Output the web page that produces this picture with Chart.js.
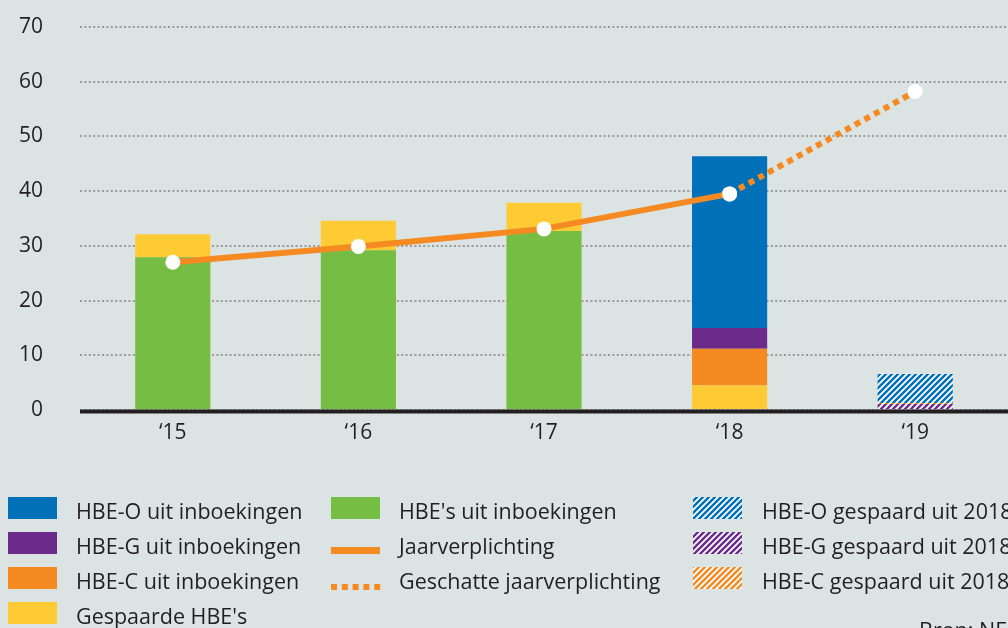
<!DOCTYPE html>
<html>
<head>
<meta charset="utf-8">
<script src="https://cdn.jsdelivr.net/npm/chart.js@4.4.0/dist/chart.umd.min.js"></script>
<style>
  html, body { margin: 0; padding: 0; background: #dbe4e2; }
  #wrap { width: 1008px; height: 628px; overflow: hidden; }
</style>
</head>
<body>
<div id="wrap"><canvas id="hbeChart" width="1008" height="628"></canvas></div>
<script>
// Values
const years = ['\u201815', '\u201816', '\u201817', '\u201818', '\u201819'];

const hbeInboekingen = [27.9, 29.2, 32.7, null, null];
const gespaardeHbe   = [4.2, 5.4, 5.2, 4.5, null];
const hbeCInboek     = [null, null, null, 6.7, null];
const hbeGInboek     = [null, null, null, 3.8, null];
const hbeOInboek     = [null, null, null, 31.4, null];
const hbeGGespaard   = [null, null, null, null, 1.1];
const hbeCGespaard   = [null, null, null, null, 0.2];
const hbeOGespaard   = [null, null, null, null, 5.3];

const jaarverplichting = [27.0, 29.9, 33.1, 39.5, null];
const geschatteJaarverplichting = [null, null, null, 39.5, 58.2];

const BLUE = '#0070b8';
const PURPLE = '#6a2b8b';
const ORANGE = '#f58a22';
const YELLOW = '#fecb34';
const GREEN = '#76be43';
const TEXT = '#231f20';
const FONT = '"Open Sans", "Noto Sans", sans-serif';

const canvas = document.getElementById('hbeChart');
const ctx = canvas.getContext('2d');

function makeHatch(color) {
    const s = 6;
    const c = document.createElement('canvas');
    c.width = s; c.height = s;
    const g = c.getContext('2d');
    g.fillStyle = '#ffffff';
    g.fillRect(0, 0, s, s);
    g.strokeStyle = color;
    g.lineWidth = 2.4;
    g.beginPath();
    g.moveTo(-1, 1); g.lineTo(1, -1);
    g.moveTo(0, s); g.lineTo(s, 0);
    g.moveTo(s - 1, s + 1); g.lineTo(s + 1, s - 1);
    g.stroke();
    return ctx.createPattern(c, 'repeat');
}

const hatchO = makeHatch(BLUE);
const hatchG = makeHatch(PURPLE);
const hatchC = makeHatch(ORANGE);

// legend columns (label, swatch style)
const legendCol1 = [
    ['HBE-O uit inboekingen', BLUE],
    ['HBE-G uit inboekingen', PURPLE],
    ['HBE-C uit inboekingen', ORANGE],
    ["Gespaarde HBE's", YELLOW]
];
const legendCol2 = [
    ["HBE's uit inboekingen", GREEN],
    ['Jaarverplichting', 'line'],
    ['Geschatte jaarverplichting', 'dots']
];
const legendCol3 = [
    ['HBE-O gespaard uit 2018', hatchO],
    ['HBE-G gespaard uit 2018', hatchG],
    ['HBE-C gespaard uit 2018', hatchC]
];

const legendPlugin = {
    id: 'hbeLegend',
    afterDatasetsDraw(chart) {
        const c = chart.ctx;
        const area = chart.chartArea;
        // thick zero line
        c.save();
        c.strokeStyle = TEXT;
        c.lineWidth = 4;
        c.beginPath();
        c.moveTo(area.left, area.bottom + 1.5);
        c.lineTo(area.right, area.bottom + 1.5);
        c.stroke();
        c.restore();
    },
    afterDraw(chart) {
        const c = chart.ctx;
        c.save();
        c.font = '21.5px ' + FONT;
        c.fillStyle = TEXT;
        c.textBaseline = 'alphabetic';

        const cols = [
            { items: legendCol1, sx: 8, tx: 76 },
            { items: legendCol2, sx: 331, tx: 399 },
            { items: legendCol3, sx: 693, tx: 762 }
        ];
        cols.forEach(col => {
            col.items.forEach((item, i) => {
                const top = 497 + i * 35;
                const style = item[1];
                if (style === 'line') {
                    c.fillStyle = ORANGE;
                    c.fillRect(col.sx, top + 15, 49, 7);
                } else if (style === 'dots') {
                    c.fillStyle = ORANGE;
                    for (let k = 0; k < 5; k++) {
                        c.fillRect(col.sx + k * 10.8, top + 17, 6, 6);
                    }
                } else {
                    c.fillStyle = style;
                    c.fillRect(col.sx, top, 49, 22);
                }
                c.fillStyle = TEXT;
                c.fillText(item[0], col.tx, top + 22);
            });
        });

        c.fillText('Bron: NEa', 919, 638);
        c.restore();
    }
};

function barSet(label, data, color) {
    return {
        label: label,
        data: data,
        backgroundColor: color,
        borderWidth: 0,
        barPercentage: 0.405,
        categoryPercentage: 1,
        order: 1
    };
}

new Chart(ctx, {
    type: 'bar',
    data: {
        labels: years,
        datasets: [
            {
                type: 'line',
                label: 'Jaarverplichting',
                data: jaarverplichting,
                stack: 'lijn1',
                borderColor: ORANGE,
                borderWidth: 6,
                tension: 0,
                pointRadius: 7.5,
                pointBackgroundColor: '#ffffff',
                pointBorderWidth: 0,
                order: 0
            },
            {
                type: 'line',
                label: 'Geschatte jaarverplichting',
                data: geschatteJaarverplichting,
                stack: 'lijn2',
                borderColor: ORANGE,
                borderWidth: 6,
                borderDash: [6, 5],
                borderCapStyle: 'butt',
                tension: 0,
                pointRadius: 7.5,
                pointBackgroundColor: '#ffffff',
                pointBorderWidth: 0,
                order: 0
            },
            barSet("HBE's uit inboekingen", hbeInboekingen, GREEN),
            barSet("Gespaarde HBE's", gespaardeHbe, YELLOW),
            barSet('HBE-C uit inboekingen', hbeCInboek, ORANGE),
            barSet('HBE-G uit inboekingen', hbeGInboek, PURPLE),
            barSet('HBE-O uit inboekingen', hbeOInboek, BLUE),
            barSet('HBE-G gespaard uit 2018', hbeGGespaard, hatchG),
            barSet('HBE-C gespaard uit 2018', hbeCGespaard, hatchC),
            barSet('HBE-O gespaard uit 2018', hbeOGespaard, hatchO)
        ]
    },
    options: {
        responsive: false,
        animation: false,
        layout: { autoPadding: false, padding: { top: 27, left: 0, right: 0, bottom: 0 } },
        plugins: {
            legend: { display: false },
            tooltip: { enabled: false }
        },
        scales: {
            x: {
                stacked: true,
                grid: { display: false, drawTicks: false },
                border: { display: false },
                ticks: {
                    color: TEXT,
                    font: { family: FONT, size: 21 },
                    padding: 10
                },
                afterFit: function(scale) {
                    scale.height = 218;
                    scale.paddingLeft = 0;
                    scale.paddingRight = 0;
                }
            },
            y: {
                stacked: true,
                min: 0,
                max: 70,
                grid: { color: '#9a9a9a', lineWidth: 2, drawTicks: false },
                border: { display: false, dash: [2, 2.4] },
                ticks: {
                    stepSize: 10,
                    color: TEXT,
                    font: { family: FONT, size: 21 },
                    padding: 37
                },
                afterFit: function(scale) {
                    scale.width = 80;
                    scale.paddingTop = 0;
                    scale.paddingBottom = 0;
                }
            }
        }
    },
    plugins: [legendPlugin]
});
</script>
</body>
</html>
